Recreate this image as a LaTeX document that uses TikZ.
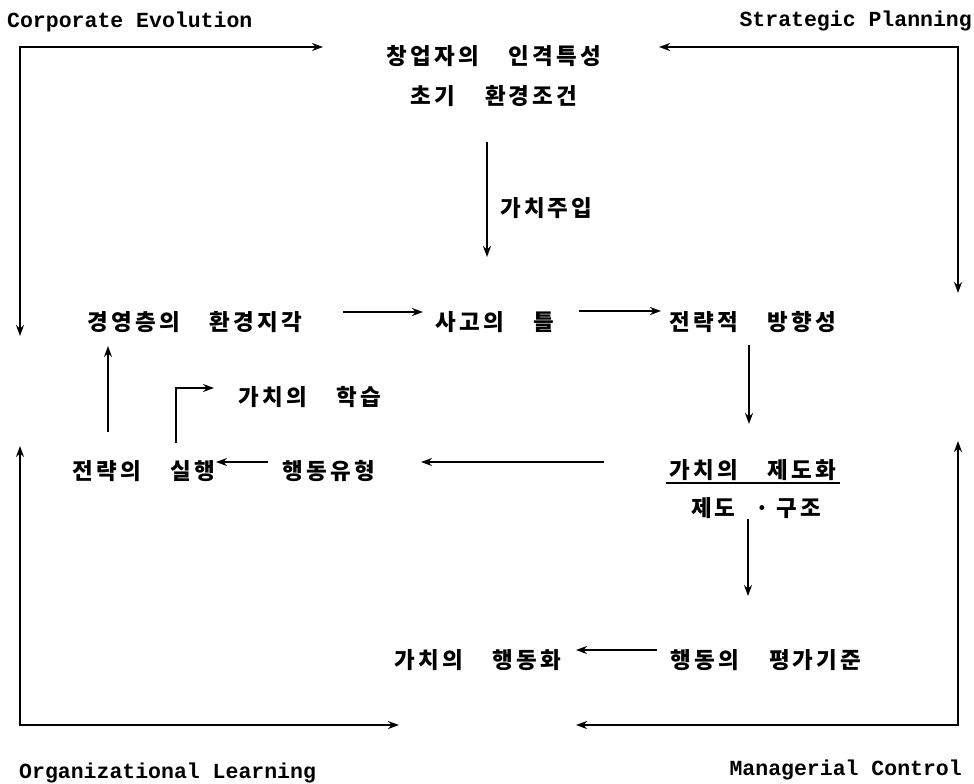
\documentclass[tikz,border=0pt]{standalone}
\usepackage{fontspec}
\newfontfamily\kr{Noto Sans CJK KR}[LetterSpace=14,WordSpace=3.6]
\newfontfamily\tw{Liberation Mono}
\usetikzlibrary{arrows.meta}
\begin{document}
\begin{tikzpicture}[x=1pt,y=-1pt,
  ko/.style={font=\kr\bfseries\fontsize{22.5}{26}\selectfont, inner sep=0pt},
  en/.style={font=\tw\bfseries\fontsize{21.5}{24}\selectfont, inner sep=0pt},
  tip/.tip={Stealth[length=11pt,width=8pt]},
  arr/.style={line width=2pt, -tip},
  loopline/.style={line width=2pt, tip-tip}]
\useasboundingbox (0,0) rectangle (974,784);
\fill[white] (0,0) rectangle (974,784);

% corner labels
\node[en, anchor=west] (ce) at (7,22) {Corporate Evolution};
\node[en, anchor=east] (sp) at (972,21) {Strategic Planning};
\node[en, anchor=west] (ol) at (19,773) {Organizational Learning};
\node[en, anchor=east] (mc) at (962,770) {Managerial Control};

% text items
\node[ko] (found) at (494,56) {창업자의 인격특성};
\node[ko] (init)  at (494,96) {초기 환경조건};
\node[ko, anchor=west] (inject) at (500,208) {가치주입};
\node[ko] (mgmt)  at (195,322) {경영층의 환경지각};
\node[ko] (frame) at (495,322) {사고의 틀};
\node[ko] (dir)   at (753,322) {전략적 방향성};
\node[ko] (learn) at (310,397) {가치의 학습};
\node[ko] (exec)  at (144,471) {전략의 실행};
\node[ko] (beh)   at (329,471) {행동유형};
\node[ko] (inst)  at (753,470) {가치의 제도화};
\node[ko] (struct) at (756,508) {제도\hspace{20pt}·\hspace{7pt}구조};
\node[ko] (crit)  at (766,660) {행동의 평가기준};
\node[ko] (act)   at (478,660) {가치의 행동화};

\draw[line width=1.6pt] (inst.south west) ++(-3,2) coordinate (ul1) -- ([xshift=3pt]ul1 -| inst.south east);

% arrow end points
\coordinate (a1s) at (487,142);  \coordinate (a1e) at (487,257);
\coordinate (a2s) at (343,312);  \coordinate (a2e) at (423,312);
\coordinate (a3s) at (579,311);  \coordinate (a3e) at (661,311);
\coordinate (a4s) at (749,345);  \coordinate (a4e) at (749,424);
\coordinate (a5s) at (748,519);  \coordinate (a5e) at (748,596);
\coordinate (a6s) at (657,650);  \coordinate (a6e) at (576,650);
\coordinate (a7s) at (604,462);  \coordinate (a7e) at (421,462);
\coordinate (a8s) at (268,462);  \coordinate (a8e) at (216,462);
\coordinate (a9s) at (108,432);  \coordinate (a9e) at (108,346);
\coordinate (a10s) at (176,443); \coordinate (a10c) at (176,388); \coordinate (a10e) at (214,388);

\draw[arr] (a1s) -- (a1e);
\draw[arr] (a2s) -- (a2e);
\draw[arr] (a3s) -- (a3e);
\draw[arr] (a4s) -- (a4e);
\draw[arr] (a5s) -- (a5e);
\draw[arr] (a6s) -- (a6e);
\draw[arr] (a7s) -- (a7e);
\draw[arr] (a8s) -- (a8e);
\draw[arr] (a9s) -- (a9e);
\draw[arr] (a10s) -- (a10c) -- (a10e);

% outer loops
\coordinate (tl) at (20,47);   \coordinate (tlA) at (323,47);  \coordinate (tlB) at (20,336);
\coordinate (tr) at (958,47);  \coordinate (trA) at (659,47);  \coordinate (trB) at (958,293);
\coordinate (bl) at (20,725);  \coordinate (blA) at (20,446);  \coordinate (blB) at (399,725);
\coordinate (br) at (958,725); \coordinate (brA) at (958,441); \coordinate (brB) at (576,725);

\draw[loopline] (tlA) -- (tl) -- (tlB);
\draw[loopline] (trA) -- (tr) -- (trB);
\draw[loopline] (blA) -- (bl) -- (blB);
\draw[loopline] (brA) -- (br) -- (brB);
\end{tikzpicture}
\end{document}
